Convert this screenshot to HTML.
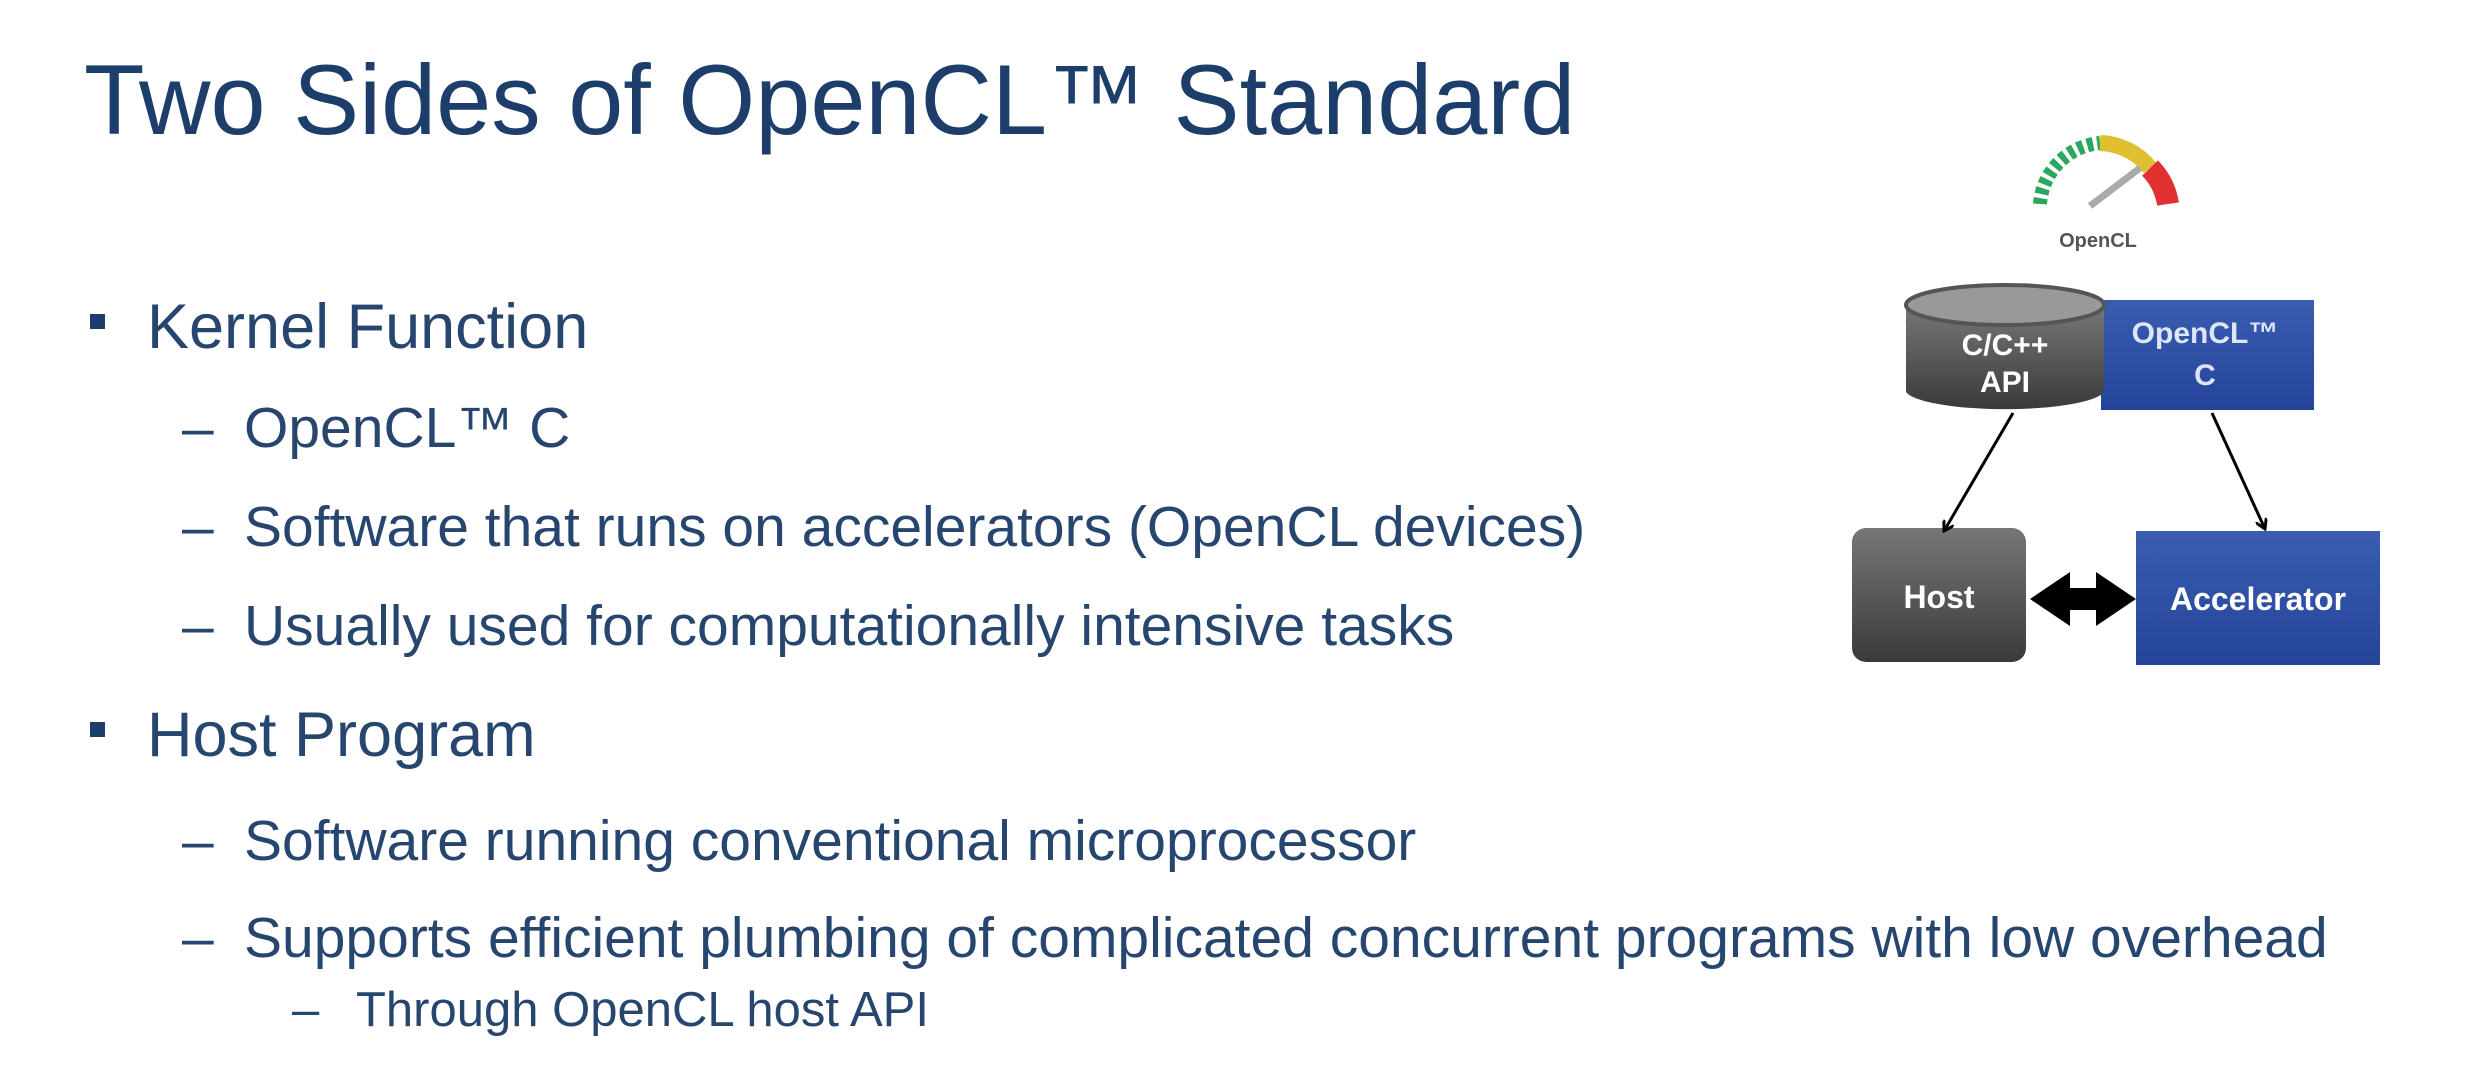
<!DOCTYPE html>
<html><head><meta charset="utf-8"><style>
body{margin:0;width:2472px;height:1068px;background:#fff;position:relative;overflow:hidden;font-family:"Liberation Sans",sans-serif;color:#27466f}
.t{position:absolute;white-space:nowrap;line-height:1}
</style></head><body>
<div class="t" style="left:84px;top:50px;font-size:99px;color:#1d3d6b">Two Sides of OpenCL™ Standard</div>
<div class="t" style="left:90px;top:314px;width:15px;height:15px;background:#1d3d6b"></div>
<div class="t" style="left:147px;top:296px;font-size:63px">Kernel Function</div>
<div class="t" style="left:182px;top:400px;font-size:57px">–</div>
<div class="t" style="left:244px;top:400px;font-size:57px">OpenCL™ C</div>
<div class="t" style="left:182px;top:499px;font-size:57px">–</div>
<div class="t" style="left:244px;top:499px;font-size:57px">Software that runs on accelerators (OpenCL devices)</div>
<div class="t" style="left:182px;top:598px;font-size:57px">–</div>
<div class="t" style="left:244px;top:598px;font-size:57px">Usually used for computationally intensive tasks</div>
<div class="t" style="left:90px;top:722px;width:15px;height:15px;background:#1d3d6b"></div>
<div class="t" style="left:147px;top:704px;font-size:63px">Host Program</div>
<div class="t" style="left:182px;top:813px;font-size:57px">–</div>
<div class="t" style="left:244px;top:813px;font-size:57px">Software running conventional microprocessor</div>
<div class="t" style="left:182px;top:910px;font-size:57px">–</div>
<div class="t" style="left:244px;top:910px;font-size:57px">Supports efficient plumbing of complicated concurrent programs with low overhead</div>
<div class="t" style="left:292px;top:986px;font-size:49px">–</div>
<div class="t" style="left:356px;top:986px;font-size:49px">Through OpenCL host API</div>
<svg width="2472" height="1068" style="position:absolute;left:0;top:0">
<defs>
<linearGradient id="g" x1="0" y1="0" x2="0" y2="1"><stop offset="0" stop-color="#777"/><stop offset="1" stop-color="#3a3a3a"/></linearGradient>
<linearGradient id="b" x1="0" y1="0" x2="0" y2="1"><stop offset="0" stop-color="#3a5db0"/><stop offset="1" stop-color="#24449a"/></linearGradient>
<marker id="ah" markerWidth="12" markerHeight="12" refX="10" refY="6" orient="auto" markerUnits="userSpaceOnUse"><path d="M0,0 L10,6 L0,12" fill="none" stroke="#000" stroke-width="3"/></marker>
</defs>
<g transform="translate(0,8)">
<path d="M2040,196 A66,66 0 0 1 2100,135" fill="none" stroke="#2aa860" stroke-width="14" stroke-dasharray="6 4"/>
<path d="M2100,135 A66,66 0 0 1 2150,160" fill="none" stroke="#e0c030" stroke-width="16"/>
<path d="M2150,160 A66,66 0 0 1 2168,196" fill="none" stroke="#e03030" stroke-width="22"/>
<line x1="2090" y1="198" x2="2140" y2="160" stroke="#aaa" stroke-width="7"/>
</g>
<text x="2098" y="247" font-size="20" font-weight="bold" fill="#555" text-anchor="middle" font-family="Liberation Sans">OpenCL</text>
<rect x="2101" y="300" width="213" height="110" fill="url(#b)"/>
<text x="2205" y="343" font-size="30" font-weight="bold" fill="#dde6f7" text-anchor="middle" font-family="Liberation Sans">OpenCL™</text>
<text x="2205" y="385" font-size="30" font-weight="bold" fill="#dde6f7" text-anchor="middle" font-family="Liberation Sans">C</text>
<path d="M1906,305 L1906,392 A100,20 0 0 0 2104,392 L2104,305 Z" fill="url(#g)"/>
<ellipse cx="2005" cy="305" rx="99" ry="20" fill="#999" stroke="#555" stroke-width="4"/>
<text x="2005" y="355" font-size="30" font-weight="bold" fill="#fff" text-anchor="middle" font-family="Liberation Sans">C/C++</text>
<text x="2005" y="392" font-size="30" font-weight="bold" fill="#fff" text-anchor="middle" font-family="Liberation Sans">API</text>
<rect x="1852" y="528" width="174" height="134" rx="14" fill="url(#g)"/>
<text x="1939" y="608" font-size="32" font-weight="bold" fill="#fff" text-anchor="middle" font-family="Liberation Sans">Host</text>
<rect x="2136" y="531" width="244" height="134" fill="url(#b)"/>
<text x="2258" y="610" font-size="32" font-weight="bold" fill="#fff" text-anchor="middle" font-family="Liberation Sans">Accelerator</text>
<line x1="2013" y1="413" x2="1944" y2="531" stroke="#000" stroke-width="3" marker-end="url(#ah)"/>
<line x1="2212" y1="413" x2="2265" y2="529" stroke="#000" stroke-width="3" marker-end="url(#ah)"/>
<path d="M2030,599 L2070,572 L2070,588 L2096,588 L2096,572 L2136,599 L2096,626 L2096,610 L2070,610 L2070,626 Z" fill="#000"/>
</svg>
</body></html>
